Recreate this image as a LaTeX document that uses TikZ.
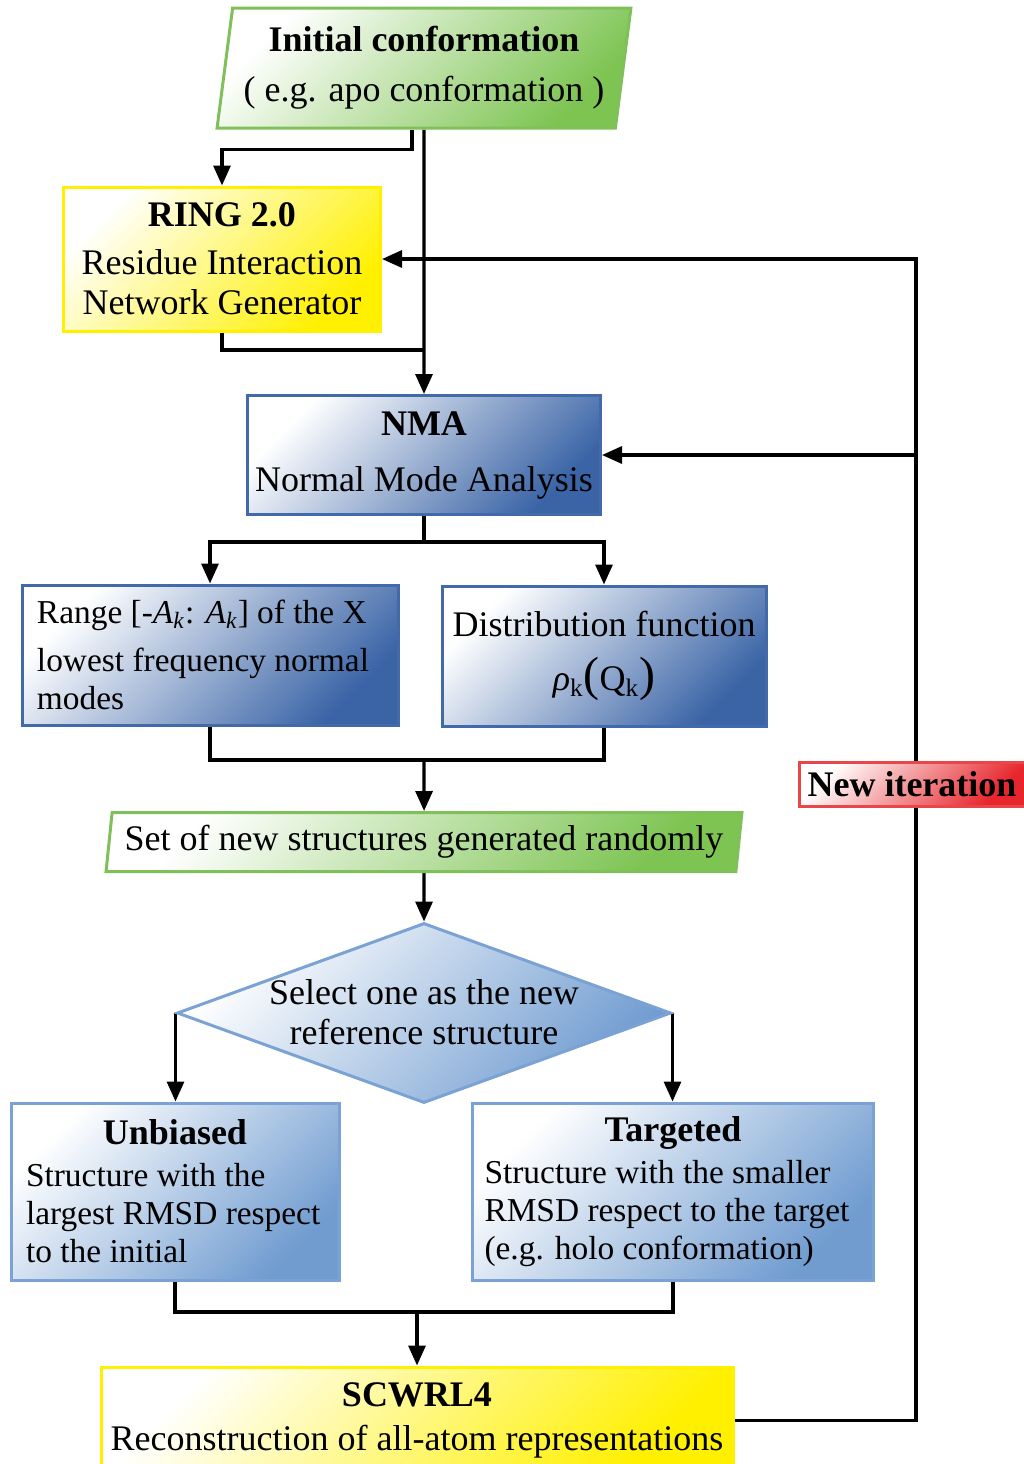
\documentclass[tikz,border=0pt]{standalone}
\usepackage{fontspec}
\setmainfont{Liberation Serif}
\definecolor{nmGreen}    {RGB}{125, 196,  82}
\definecolor{nmGreenLine}{RGB}{128, 192,  90}
\definecolor{nmYellow}   {RGB}{255, 240,   0}
\definecolor{nmBlue}     {RGB}{ 58, 100, 166}
\definecolor{nmBlueLine} {RGB}{ 66, 106, 170}
\definecolor{nmSteel}    {RGB}{112, 156, 208}
\definecolor{nmSteelLine}{RGB}{122, 162, 212}
\definecolor{nmRed}      {RGB}{230,  38,  44}
\definecolor{nmRedLine}  {RGB}{232,  70,  74}
\usetikzlibrary{
  arrows.meta,
  positioning,
  shapes.geometric,
  backgrounds,
}

\begin{document}
\begin{tikzpicture}[
  x=0.5pt, y=-0.5pt,
  >={Triangle[length=10pt,width=8.5pt]},
  base/.style    ={line width=1.5pt, align=center, inner sep=0pt,
                   font=\fontsize{18}{20}\selectfont, text=black},
  io/.style      ={base, trapezium, trapezium left angle=80,
                   trapezium right angle=100, trapezium stretches=true,
                   draw=nmGreenLine, top color=white, bottom color=nmGreen,
                   shading angle=45},
  tool/.style    ={base, draw=nmYellow, top color=white,
                   bottom color=nmYellow, shading angle=45},
  nmabox/.style  ={base, draw=nmBlueLine, top color=white,
                   bottom color=nmBlue, shading angle=45},
  pick/.style    ={base, draw=nmSteelLine, top color=white,
                   bottom color=nmSteel, shading angle=45},
  decide/.style  ={pick, diamond},
  loopnote/.style={base, draw=nmRedLine, top color=white,
                   bottom color=nmRed, shading angle=45},
  smalltxt/.style={font=\fontsize{16.7}{19}\selectfont, align=flush left},
  conn/.style    ={line width=1.6pt},
  flow/.style    ={conn, ->},
]
  \useasboundingbox (0,0) rectangle (1024,1464);

  % main column
  \node[io, minimum width=207.5pt, minimum height=60pt] (initconf) at (424, 68)
    {\textbf{Initial conformation}\\[5pt]( e.g. apo conformation )};
  \node[tool, minimum width=158.5pt, minimum height=72pt] (ring) at (222, 259)
    {\textbf{RING 2.0}\\[4pt]Residue Interaction\\Network Generator};
  \node[nmabox, minimum width=176.5pt, minimum height=59.5pt] (nma) at (424, 455)
    {\textbf{NMA}\\[8pt]Normal Mode Analysis};
  \node[nmabox, smalltxt, text width=173pt, inner xsep=7.5pt,
        minimum height=70pt] (range) at (210, 655)
    {Range [-\textit{A}\textsubscript{\textit{k}}: \textit{A}\textsubscript{\textit{k}}] of the X\\[5pt]
     lowest frequency normal\\modes};
  \node[nmabox, minimum width=162pt, minimum height=70pt] (distrib) at (604, 656)
    {Distribution function\\[7pt]\textit{ρ}\textsubscript{k}{\fontsize{24}{24}\selectfont (}Q\textsubscript{k}{\fontsize{24}{24}\selectfont )}};
  \node[io, minimum width=319pt, minimum height=29.5pt] (randset) at (424, 842)
    {Set of new structures generated randomly};
  \node[decide, minimum width=247pt, minimum height=90pt] (select) at (424, 1013) {};
  \node[base] (seltext) at (424, 1012) {Select one as the new\\reference structure};
  \node[pick, smalltxt, text width=149pt, inner xsep=7.5pt,
        minimum height=88.5pt] (unbiased) at (175, 1191.5)
    {\hfill\textbf{\fontsize{18}{20}\selectfont Unbiased}\hfill\mbox{}\\[2pt]
     Structure with the\\largest RMSD respect\\to the initial};
  \node[pick, smalltxt, text width=188.5pt, inner xsep=6pt,
        minimum height=88.5pt] (targeted) at (673, 1191.5)
    {\hfill\textbf{\fontsize{18}{20}\selectfont Targeted}\hfill\mbox{}\\[2pt]
     Structure with the smaller\\RMSD respect to the target\\(e.g. holo conformation)};
  \node[tool, minimum width=316pt, minimum height=53.5pt] (scwrl) at (417, 1420.5)
    {\textbf{SCWRL4}\\[2pt]Reconstruction of all-atom representations};

  % feedback label sits on the loop line
  \node[loopnote, minimum width=113pt, minimum height=22pt] (newiter) at (912, 784)
    {\textbf{New iteration}};

  \coordinate (ringjoin) at (424, 350);
  \coordinate (merge)    at (424, 760);
  \coordinate (merge2)   at (417, 1312);
  \coordinate (loop)     at (916, 784);

  \begin{scope}[on background layer]
    \draw[flow] ([xshift=-6pt]initconf.south) -- ++(0,20) -| (ring.north);
    \draw[flow] (initconf.south) -- (nma.north);
    \draw[conn] (ring.south) |- (ringjoin);
    \draw[flow] (nma.south) -- ++(0,26) -| (range.north);
    \draw[flow] (nma.south) -- ++(0,26) -| (distrib.north);
    \draw[conn] (range.south) |- (merge) -| (distrib.south);
    \draw[flow] (merge) -- (randset.north);
    \draw[flow] (randset.south) -- (select.north);
    \draw[flow] (select.west) -- (select.west |- unbiased.north);
    \draw[flow] (select.east) -- (select.east |- targeted.north);
    \draw[conn] (unbiased.south) |- (merge2) -| (targeted.south);
    \draw[flow] (merge2) -- (scwrl.north);
    % new iteration loop
    \draw[flow] (scwrl.east) -| (loop) |- (ring.east);
    \draw[flow] (loop |- nma.east) -- (nma.east);
  \end{scope}

\end{tikzpicture}
\end{document}
